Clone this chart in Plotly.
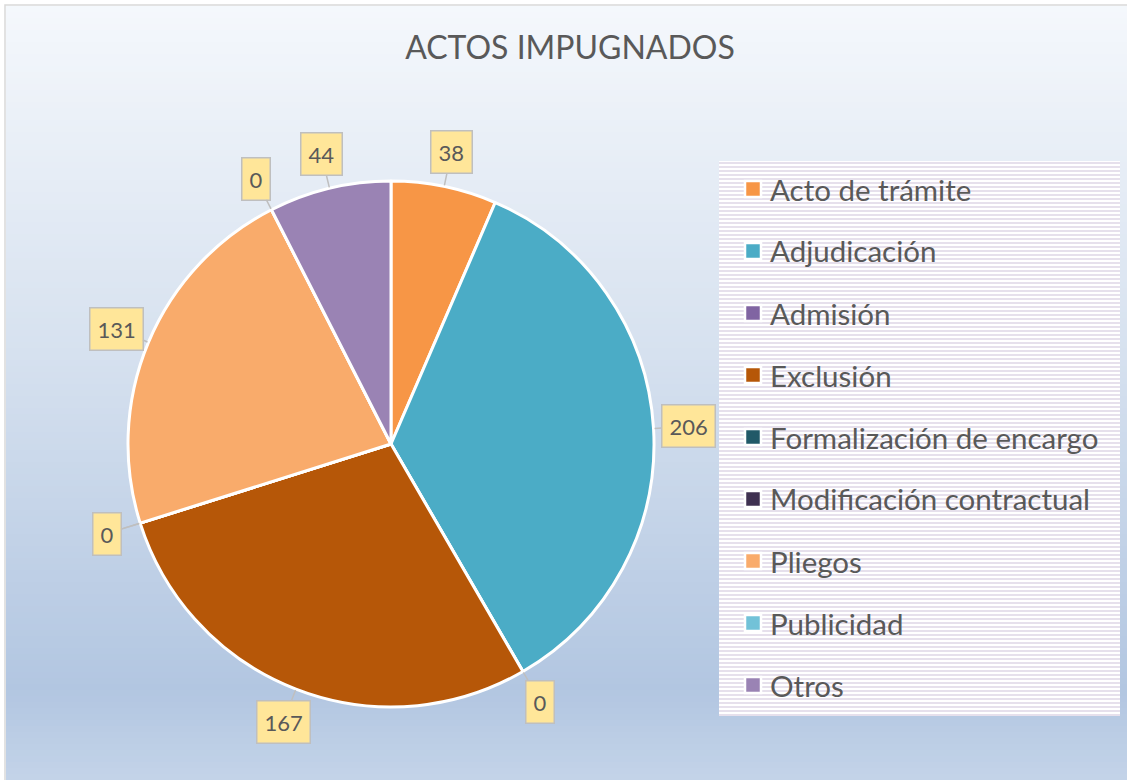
import math
import plotly.graph_objects as go

# ---------------- data ----------------
categories = ["Acto de trámite", "Adjudicación", "Admisión", "Exclusión",
              "Formalización de encargo", "Modificación contractual",
              "Pliegos", "Publicidad", "Otros"]
values = [38, 206, 0, 167, 0, 0, 131, 0, 44]
title_text = "ACTOS IMPUGNADOS"

# ---------------- styles ----------------
colors = ["#F79646", "#4BACC6", "#8064A2", "#B65708", "#215968",
          "#3F3151", "#F9AB6B", "#72C2D8", "#9A83B4"]
W, H = 1127, 780
CX, CY, R = 391, 444, 263          # pie centre / radius in px
LR = 297                           # radius of data-label boxes
FONT = "Lato"
TXT = "#595959"

def px(x):
    return x / W

def py(y):
    return 1 - y / H

fig = go.Figure()
fig.add_trace(go.Pie(
    labels=categories, values=values, sort=False, direction="clockwise",
    rotation=0, textinfo="none", hoverinfo="label+value",
    marker=dict(colors=colors, line=dict(color="white", width=3)),
    domain=dict(x=[px(CX - R), px(CX + R)], y=[py(CY + R), py(CY - R)]),
    showlegend=False,
))

shapes = []
# background gradient
stops = [(0.0, (0xF5, 0xF8, 0xFC)), (0.45, (0xD6, 0xE1, 0xEF)),
         (0.88, (0xB2, 0xC6, 0xE1)), (1.0, (0xC4, 0xD4, 0xE9))]

def grad(t):
    for (t0, c0), (t1, c1) in zip(stops[:-1], stops[1:]):
        if t0 <= t <= t1:
            f = (t - t0) / (t1 - t0)
            return "rgb(%d,%d,%d)" % tuple(round(a + (b - a) * f) for a, b in zip(c0, c1))
    return "rgb(%d,%d,%d)" % stops[-1][1]

step = 6
for y in range(6, H, step):
    shapes.append(dict(type="rect", xref="paper", yref="paper", layer="below",
                       x0=px(6), x1=1, y0=py(min(y + step + 1, H)), y1=py(y),
                       fillcolor=grad(y / H), line=dict(width=0)))
shapes.append(dict(type="rect", xref="paper", yref="paper", layer="below",
                   x0=px(5), x1=1.01, y0=-0.01, y1=py(5),
                   fillcolor="rgba(0,0,0,0)", line=dict(color="#D9D9D9", width=1.5)))

# legend box with stripes
LX0, LX1, LY0, LY1 = 719, 1120, 161, 716
shapes.append(dict(type="rect", xref="paper", yref="paper", layer="below",
                   x0=px(LX0), x1=px(LX1), y0=py(LY1), y1=py(LY0),
                   fillcolor="white", line=dict(width=0)))
for y in range(LY0 + 2, LY1, 4):
    shapes.append(dict(type="line", xref="paper", yref="paper", layer="below",
                       x0=px(LX0), x1=px(LX1), y0=py(y), y1=py(y),
                       line=dict(color="#E6E0EC", width=2)))

annotations = []
# legend entries
for i, (cat, col) in enumerate(zip(categories, colors)):
    yc = 189 + 62 * i
    shapes.append(dict(type="rect", xref="paper", yref="paper", layer="above",
                       x0=px(745), x1=px(761), y0=py(yc + 8), y1=py(yc - 8),
                       fillcolor=col, line=dict(color="white", width=2.5)))
    annotations.append(dict(text=cat, x=px(768), y=py(yc), xref="paper", yref="paper",
                            xanchor="left", yanchor="middle", showarrow=False,
                            font=dict(family=FONT, size=29.5, color=TXT)))

# data labels (callouts)
total = sum(values)
cum = 0
for v in values:
    a = (cum + v / 2) / total * 2 * math.pi
    cum += v
    hx, hy = CX + (R + 1) * math.sin(a), CY - (R + 1) * math.cos(a)
    annotations.append(dict(
        text=str(v), x=px(hx), y=py(hy), xref="paper", yref="paper",
        showarrow=True, arrowhead=0, arrowwidth=1.5, arrowcolor="#BFBFBF",
        ax=(LR - R) * math.sin(a), ay=-(LR - R) * math.cos(a),
        bgcolor="#FFE699", bordercolor="#BFBFBF", borderwidth=1.5, borderpad=7,
        font=dict(family=FONT, size=22, color=TXT)))

fig.update_layout(
    width=W, height=H, margin=dict(l=0, r=0, t=0, b=0),
    paper_bgcolor="white", plot_bgcolor="white",
    title=dict(text=title_text, x=px(570), y=py(48), xanchor="center", yanchor="middle",
               font=dict(family=FONT, size=32, color=TXT)),
    shapes=shapes, annotations=annotations, showlegend=False,
)
fig.write_html("out.html", config={"displayModeBar": False},
               post_script="document.body.style.margin='0';")
